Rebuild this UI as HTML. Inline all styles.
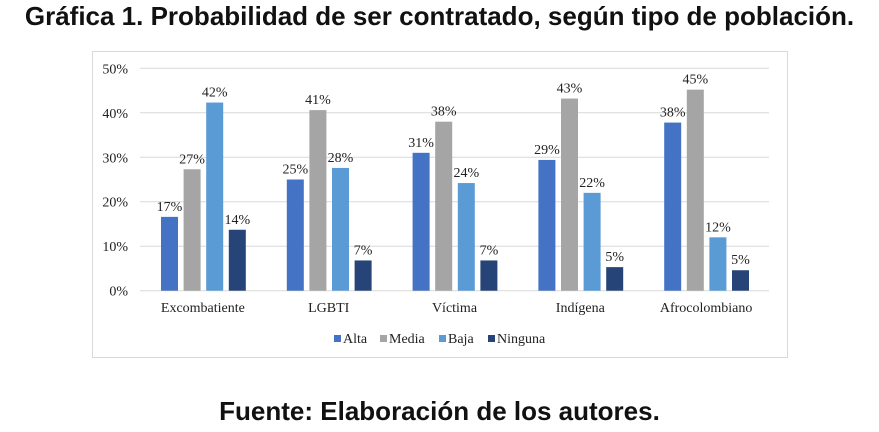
<!DOCTYPE html>
<html><head><meta charset="utf-8"><style>
body{margin:0;width:879px;height:432px;background:#fff;overflow:hidden;font-family:"Liberation Sans",sans-serif}
#title{position:absolute;left:0;width:879px;top:1px;text-align:center;font-weight:bold;font-size:26px;color:#111;white-space:nowrap}
#foot{position:absolute;left:0;width:879px;top:396px;text-align:center;font-weight:bold;font-size:26px;color:#111}
svg{position:absolute;left:0;top:0}
</style></head><body>
<div id="title">Gráfica 1. Probabilidad de ser contratado, según tipo de población.</div>
<svg id="chart" width="879" height="432"></svg>
<div id="foot">Fuente: Elaboración de los autores.</div>
<script>
const categories=["Excombatiente","LGBTI","Víctima","Indígena","Afrocolombiano"];
const seriesNames=["Alta","Media","Baja","Ninguna"];
const alta=[16.6,25,31,29.4,37.8];
const media=[27.3,40.6,38,43.2,45.2];
const baja=[42.3,27.6,24.2,22,12];
const ninguna=[13.7,6.8,6.8,5.3,4.6];
const labels=[["17%","25%","31%","29%","38%"],["27%","41%","38%","43%","45%"],["42%","28%","24%","22%","12%"],["14%","7%","7%","5%","5%"]];
const yTicks=[0,10,20,30,40,50];
const colors=["#4472c4","#a5a5a5","#5b9bd5","#264478"];
const series=[alta,media,baja,ninguna];
const NS="http://www.w3.org/2000/svg";
const svg=document.getElementById('chart');
const x0=140,x1=769,y0=290.7,yTop=68.3;
const y=v=>y0-(v/50)*(y0-yTop);
const cw=(x1-x0)/categories.length;
function mk(t,a){const e=document.createElementNS(NS,t);for(const k in a)e.setAttribute(k,a[k]);svg.appendChild(e);return e;}
const box=mk('rect',{x:92.5,y:51.5,width:695,height:306,fill:'none',stroke:'#d9d9d9'});


yTicks.forEach(t=>{
 const l=mk('line',{x1:x0,x2:x1,y1:y(t),y2:y(t),stroke:'#d9d9d9'});
 
 
 const tx=mk('text',{x:128,y:y(t)+5,'text-anchor':'end','font-family':'Liberation Serif,serif','font-size':14,fill:'#222'});
 tx.textContent=t+'%';
 
 
});
const bw=17,step=22.6;
categories.forEach((c,i)=>{
 const gx=x0+i*cw+21;
 series.forEach((s,j)=>{
  const bx=gx+j*step;
  const r=mk('rect',{x:bx,y:y(s[i]),width:bw,height:y0-y(s[i]),fill:colors[j]});
  
  
  const t=mk('text',{x:bx+bw/2,y:y(s[i])-6,'text-anchor':'middle','font-family':'Liberation Serif,serif','font-size':14,fill:'#222'});
  t.textContent=labels[j][i];
  
  
 });
 const ct=mk('text',{x:x0+i*cw+cw/2,y:312,'text-anchor':'middle','font-family':'Liberation Serif,serif','font-size':14,fill:'#222'});
 ct.textContent=c;
 
 
});
const lx=[334,380,439,488];
seriesNames.forEach((n,j)=>{
 const r=mk('rect',{x:lx[j],y:335,width:7,height:7,fill:colors[j]});
 
 
 const t=mk('text',{x:lx[j]+9,y:343,'font-family':'Liberation Serif,serif','font-size':14,fill:'#222'});
 t.textContent=n;
 
 
});
</script>
</body></html>
